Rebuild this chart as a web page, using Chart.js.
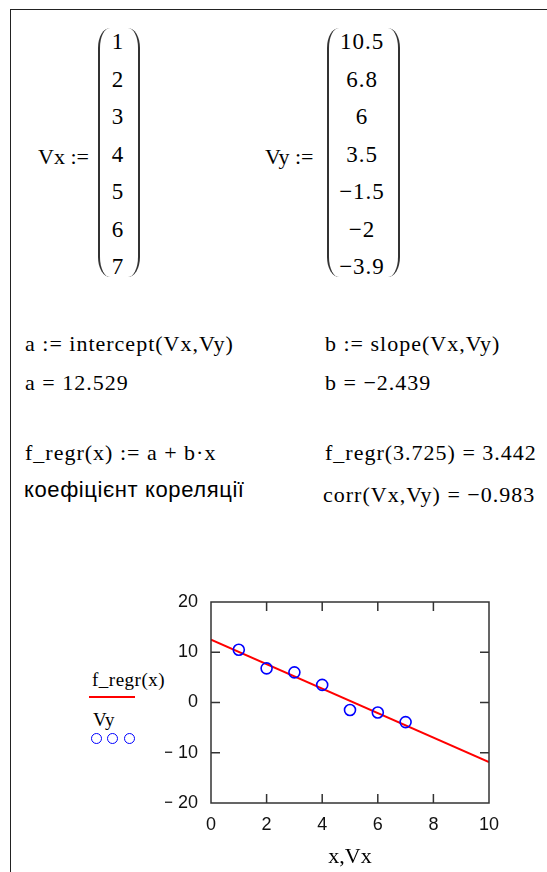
<!DOCTYPE html>
<html>
<head>
<meta charset="utf-8">
<script src="https://cdn.jsdelivr.net/npm/chart.js@4"></script>
<style>
  html, body { margin: 0; padding: 0; background: #fff; }
  body { width: 547px; height: 872px; position: relative; overflow: hidden;
         font-family: "Liberation Serif", "Times New Roman", serif; color: #000; }
  .frame { position: absolute; left: 10px; top: 9px; right: 0; bottom: 0;
           border-left: 1.5px solid #222; border-top: 1.5px solid #222; }
  .t { position: absolute; font-size: 22px; line-height: 26px; white-space: pre; letter-spacing: 1px; }
  .sans { font-family: "Liberation Sans", Arial, sans-serif; font-size: 22px; letter-spacing: 0.6px; }
  .pl, .pr { position: absolute; top: 28px; height: 249px; width: 10px; }
  .pl { border-left: 2px solid #333; border-radius: 12px 0 0 12px / 20px 0 0 20px; }
  .pr { border-right: 2px solid #333; border-radius: 0 12px 12px 0 / 0 20px 20px 0; }
  .num { position: absolute; font-size: 23px; line-height: 26px; text-align: center; width: 70px; letter-spacing: 1px; }
  #plot { position: absolute; left: 0; top: 580px; }
  .leg { position: absolute; font-size: 19px; line-height: 22px; white-space: pre; letter-spacing: 0.5px; }
  .legline { position: absolute; left: 89px; top: 696px; width: 46px; height: 0; border-top: 2px solid #ff0000; }
  .legdot { position: absolute; top: 733px; width: 9px; height: 9px; border: 1.6px solid #0000ff; border-radius: 50%; }
</style>
</head>
<body>
<div class="frame"></div>

<div class="t" style="left:38px;top:144px;letter-spacing:0">Vx :=</div>
<div class="pl" style="left:98px"></div>
<div class="pr" style="left:128px"></div>
<div id="colVx"></div>

<div class="t" style="left:265px;top:144px;letter-spacing:0">Vy :=</div>
<div class="pl" style="left:327px"></div>
<div class="pr" style="left:388px"></div>
<div id="colVy"></div>

<div class="t" style="left:25px;top:331px">a := intercept(Vx,Vy)</div>
<div class="t" style="left:325px;top:331px">b := slope(Vx,Vy)</div>
<div class="t" style="left:25px;top:370px" id="aVal"></div>
<div class="t" style="left:325px;top:370px" id="bVal"></div>
<div class="t" style="left:25px;top:440px">f_regr(x) := a + b·x</div>
<div class="t" style="left:325px;top:440px" id="fVal"></div>
<div class="t sans" style="left:24px;top:477px">коефіцієнт кореляції</div>
<div class="t" style="left:323px;top:482px" id="rVal"></div>

<div class="leg" style="left:92px;top:669px">f_regr(x)</div>
<div class="legline"></div>
<div class="leg" style="left:93px;top:709px">Vy</div>
<div class="legdot" style="left:91px"></div>
<div class="legdot" style="left:107px"></div>
<div class="legdot" style="left:124px"></div>

<canvas id="plot" width="547" height="292"></canvas>

<script>
// input vectors
const vx = [1, 2, 3, 4, 5, 6, 7];
const vy = [10.5, 6.8, 6, 3.5, -1.5, -2, -3.9];

// regression results
const a = 12.529;
const b = -2.439;
const fAt = 3.725;
const fAtVal = 3.442;
const corrVal = -0.983;

// f_regr(x) over the plotted range 0..10
const regrX = [0, 10];
const regrY = [12.529, -11.861];

const xTicks = [0, 2, 4, 6, 8, 10];
const yTicks = [-20, -10, 0, 10, 20];

function fmt(v) {
  return v < 0 ? '\u2212' + Math.abs(v) : String(v);
}

function fillColumn(id, values, center) {
  const box = document.getElementById(id);
  values.forEach((v, i) => {
    const d = document.createElement('div');
    d.className = 'num';
    d.style.left = (center - 35) + 'px';
    d.style.top = (29 + i * 37.5) + 'px';
    d.textContent = fmt(v);
    box.appendChild(d);
  });
}
fillColumn('colVx', vx, 118);
fillColumn('colVy', vy, 362);

document.getElementById('aVal').textContent = 'a = ' + fmt(a);
document.getElementById('bVal').textContent = 'b = ' + fmt(b);
document.getElementById('fVal').textContent = 'f_regr(' + fAt + ') = ' + fmt(fAtVal);
document.getElementById('rVal').textContent = 'corr(Vx,Vy) = ' + fmt(corrVal);

// box around the plot area with inward tick marks on all sides
const boxTicks = {
  id: 'boxTicks',
  afterDatasetsDraw(chart) {
    const { ctx, chartArea: ca, scales: { x, y } } = chart;
    const len = 9;
    ctx.save();
    ctx.strokeStyle = '#333';
    ctx.lineWidth = 1.5;
    ctx.strokeRect(ca.left, ca.top, ca.right - ca.left, ca.bottom - ca.top);
    ctx.beginPath();
    xTicks.slice(1, -1).forEach(t => {
      const px = x.getPixelForValue(t);
      ctx.moveTo(px, ca.bottom); ctx.lineTo(px, ca.bottom - len);
      ctx.moveTo(px, ca.top); ctx.lineTo(px, ca.top + len);
    });
    yTicks.slice(1, -1).forEach(t => {
      const py = y.getPixelForValue(t);
      ctx.moveTo(ca.left, py); ctx.lineTo(ca.left + len, py);
      ctx.moveTo(ca.right, py); ctx.lineTo(ca.right - len, py);
    });
    ctx.stroke();
    ctx.restore();
  }
};

new Chart(document.getElementById('plot'), {
  type: 'scatter',
  data: {
    datasets: [
      {
        label: 'Vy',
        data: vx.map((v, i) => ({ x: v, y: vy[i] })),
        borderColor: '#0000ff',
        backgroundColor: 'rgba(0,0,0,0)',
        borderWidth: 1.6,
        pointRadius: 5.5,
        order: 1
      },
      {
        label: 'f_regr(x)',
        type: 'line',
        data: regrX.map((v, i) => ({ x: v, y: regrY[i] })),
        borderColor: '#ff0000',
        borderWidth: 2,
        pointRadius: 0,
        fill: false,
        order: 2
      }
    ]
  },
  options: {
    responsive: false,
    animation: false,
    events: [],
    layout: { padding: { left: 165, right: 58, top: 22, bottom: 0 } },
    plugins: { legend: { display: false }, tooltip: { enabled: false } },
    scales: {
      x: {
        type: 'linear',
        min: 0,
        max: 10,
        afterBuildTicks: s => { s.ticks = xTicks.map(v => ({ value: v })); },
        afterFit: s => { s.height = 69; },
        grid: { display: false },
        border: { display: false },
        ticks: {
          color: '#111',
          padding: 3,
          maxRotation: 0,
          font: { family: '"Liberation Sans", Arial, sans-serif', size: 18 }
        },
        title: {
          display: true,
          text: 'x,Vx',
          color: '#000',
          padding: { top: 0, bottom: 2 },
          font: { family: '"Liberation Serif", serif', size: 22 }
        }
      },
      y: {
        type: 'linear',
        min: -20,
        max: 20,
        afterBuildTicks: s => { s.ticks = yTicks.map(v => ({ value: v })); },
        afterFit: s => { s.width = 46; },
        grid: { display: false },
        border: { display: false },
        ticks: {
          color: '#111',
          padding: 5,
          font: { family: '"Liberation Sans", Arial, sans-serif', size: 18 },
          callback: v => (v < 0 ? '\u2212 ' + Math.abs(v) : String(v))
        }
      }
    }
  },
  plugins: [boxTicks]
});
</script>
</body>
</html>
